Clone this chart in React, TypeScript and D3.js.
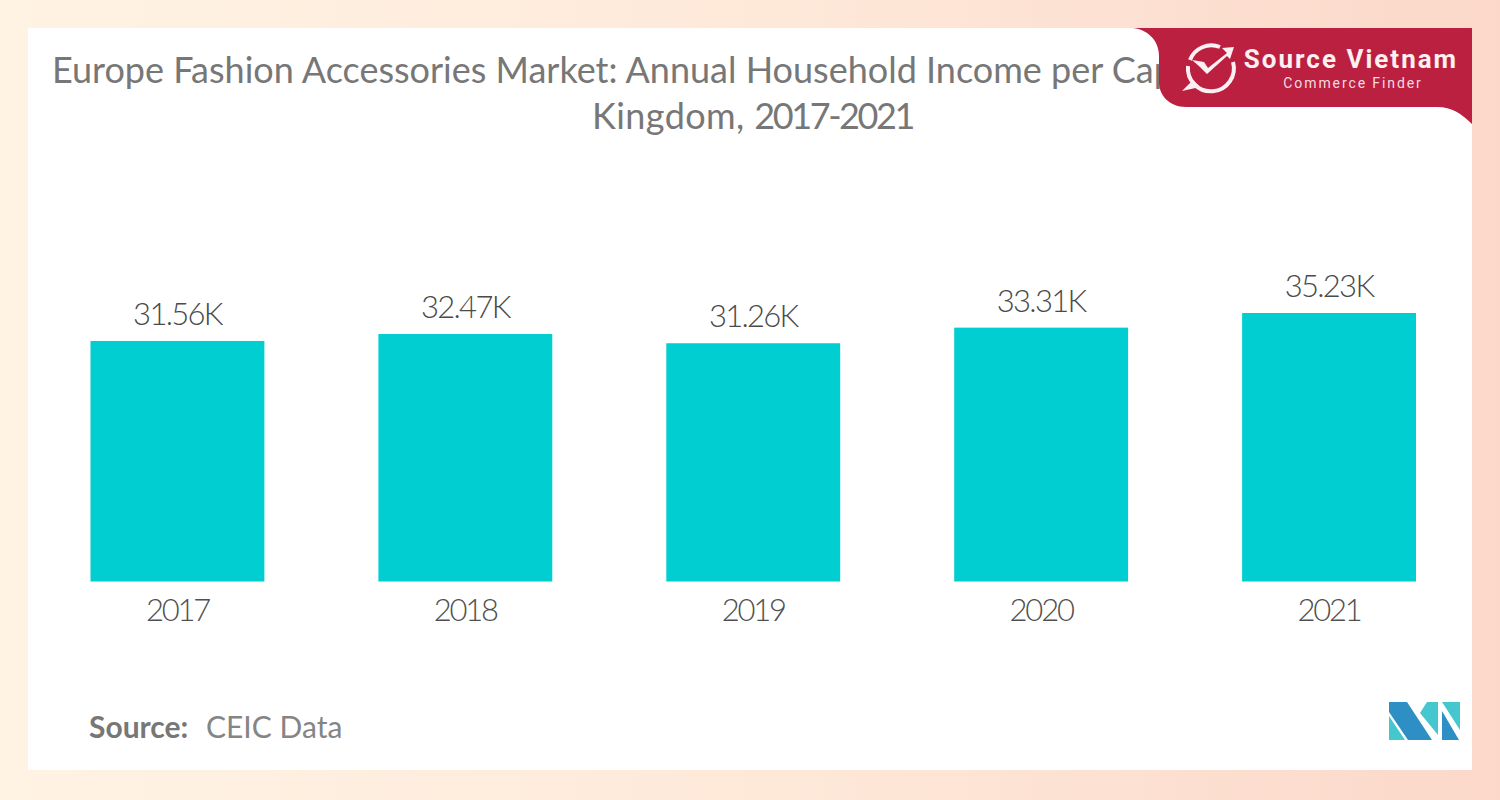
import React from "react";
import * as d3 from "d3";

const years = ["2017", "2018", "2019", "2020", "2021"];
const values = [31.56, 32.47, 31.26, 33.31, 35.23];
const valueLabels = ["31.56K", "32.47K", "31.26K", "33.31K", "35.23K"];
const titleLine1 = "Europe Fashion Accessories Market: Annual Household Income per Capita, United";
const titleLine2a = "Kingdom, ";
const titleLine2b = "2017-2021";

const FONT = "Lato, 'Noto Sans', sans-serif";

export default function App() {
  const x = d3.scaleBand<string>().domain(years).range([90.5, 1416]).paddingInner(0.396).paddingOuter(0);
  const y = d3.scaleLinear().domain([0, 35.23]).range([581.5, 313]);

  return (
    <svg
      width={1500}
      height={800}
      viewBox="0 0 1500 800"
      style={{ position: "absolute", left: 0, top: 0, display: "block" }}
    >
      <defs>
        <linearGradient id="bg" x1="0" y1="0" x2="1" y2="0">
          <stop offset="0" stopColor="#fff3e4" />
          <stop offset="0.5" stopColor="#fee9d9" />
          <stop offset="1" stopColor="#fbd8ca" />
        </linearGradient>
      </defs>
      <rect x={0} y={0} width={1500} height={800} fill="url(#bg)" />
      <rect x={28} y={28} width={1444} height={742} fill="#ffffff" />

      <text x={52} y={83} fontFamily={FONT} fontSize={36} fill="#777777">
        {titleLine1}
      </text>
      <text x={592} y={129} fontFamily={FONT} fontSize={36} fill="#777777">
        <tspan letterSpacing={0.4}>{titleLine2a}</tspan>
        <tspan letterSpacing={-2.4}>{titleLine2b}</tspan>
      </text>

      {years.map((yr, i) => (
        <g key={yr}>
          <rect
            x={x(yr)}
            y={y(values[i])}
            width={x.bandwidth()}
            height={y(0) - y(values[i])}
            fill="#00ced1"
          />
          <text
            x={x(yr)! + x.bandwidth() / 2}
            y={y(values[i]) - 16}
            textAnchor="middle"
            fontFamily={FONT}
            fontSize={31}
            fontWeight={300}
            letterSpacing={-1.7}
            fill="#4a4a4a"
          >
            {valueLabels[i]}
          </text>
          <text
            x={x(yr)! + x.bandwidth() / 2}
            y={621}
            textAnchor="middle"
            fontFamily={FONT}
            fontSize={31}
            fontWeight={300}
            letterSpacing={-2.2}
            fill="#505050"
          >
            {yr}
          </text>
        </g>
      ))}

      <text x={89} y={738} fontFamily={FONT} fontSize={30} fontWeight={700} fill="#777777">
        Source:
      </text>
      <text x={206} y={738} fontFamily={FONT} fontSize={30} fill="#858585">
        CEIC Data
      </text>

      <g>
        <path d="M1389,702L1407,702L1432,740L1408,740L1389,712Z" fill="#2e8fc4" />
        <path d="M1389,716L1405,740L1389,740Z" fill="#45c7d0" />
        <path d="M1420,713L1427,702L1438,702L1438,735Z" fill="#45c7d0" />
        <path d="M1442,702L1460,702L1460,730Z" fill="#45c7d0" />
        <path d="M1442,711L1459,740L1442,740Z" fill="#2e8fc4" />
      </g>

      <path
        d="M1132,28L1472,28L1472,124C1462,114 1452,107 1437,107L1186,107C1170,107 1159,96 1159,82L1159,56C1159,40 1147,29 1132,28Z"
        fill="#bb2040"
      />
      <g fill="none" stroke="#fdf0f2" strokeWidth={4} strokeLinecap="butt">
        <path d="M1190,60A23,23 0 0 1 1220,47" />
        <path d="M1233,62A23,23 0 1 1 1188,66" />
      </g>
      <path d="M1182,91L1193,80L1200,87Z" fill="#fdf0f2" />
      <path
        d="M1192,60L1204,62L1208,68L1227,53L1222,48L1234,47L1230,59L1227,56L1207,74L1200,67Z"
        fill="#fdf0f2"
      />
      <text
        x={1351}
        y={68}
        textAnchor="middle"
        fontFamily="Roboto, sans-serif"
        fontSize={26}
        fontWeight={700}
        letterSpacing={2}
        fill="#fdf0f2"
      >
        Source Vietnam
      </text>
      <text
        x={1353}
        y={88}
        textAnchor="middle"
        fontFamily="Roboto, sans-serif"
        fontSize={14}
        letterSpacing={1.9}
        fill="#f6dbe0"
      >
        Commerce Finder
      </text>
    </svg>
  );
}
